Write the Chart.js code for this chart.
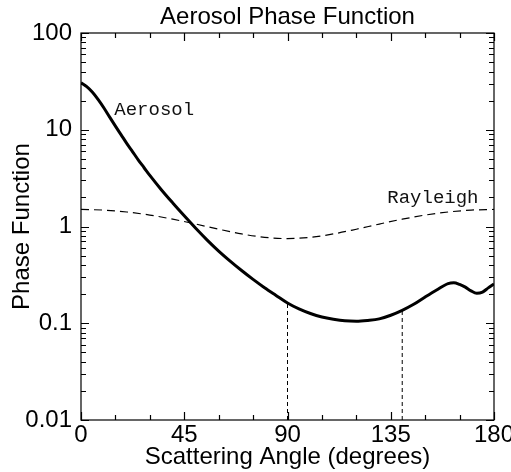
<!DOCTYPE html>
<html>
<head>
<meta charset="utf-8">
<title>Aerosol Phase Function</title>
<script src="https://cdn.jsdelivr.net/npm/chart.js@4.4.1/dist/chart.umd.min.js"></script>
<style>
  html, body { margin: 0; padding: 0; background: #fff; }
</style>
</head>
<body>
<canvas id="myChart" width="511" height="472"></canvas>
<script>
const aerosolAngles = [0, 2.5, 5, 7.5, 10, 12.5, 15, 17.5, 20, 22.5, 25, 27.5, 30, 35, 40, 45,
  50, 55, 60, 65, 70, 75, 80, 85, 90, 95, 100, 105, 110, 115, 120, 125, 130, 135, 140,
  145, 150, 155, 160, 162.5, 165, 167.5, 170, 172.5, 175, 177.5, 180];
const aerosolValues = [30.6, 27.9, 24.4, 20.5, 16.8, 13.5, 10.9, 8.85, 7.19, 5.92, 4.86, 4.05, 3.37, 2.4, 1.75, 1.29,
  0.959, 0.724, 0.557, 0.439, 0.351, 0.284, 0.233, 0.194, 0.162, 0.1406, 0.126, 0.116, 0.110, 0.106, 0.105, 0.107, 0.111, 0.121, 0.136,
  0.157, 0.187, 0.221, 0.257, 0.262, 0.252, 0.236, 0.216, 0.204, 0.21, 0.232, 0.255];

// rayleigh phase function
const rayleighAngles = [0, 10, 20, 30, 40, 50, 60, 70, 80, 90, 100, 110, 120, 130, 140, 150, 160, 170, 180];
const rayleighValues = [1.5, 1.477, 1.412, 1.3125, 1.19, 1.06, 0.9375, 0.838, 0.773, 0.75,
  0.773, 0.838, 0.9375, 1.06, 1.19, 1.3125, 1.412, 1.477, 1.5];

// angles marked with a drop line down to the axis
const markAngles = [90, 140];

const xTickValues = [0, 45, 90, 135, 180];
const xMinorStep = 15;
const yTickValues = [0.01, 0.1, 1, 10, 100];

const chartTitle = 'Aerosol Phase Function';

// curve names, placed in data units
const curveLabels = [
  { text: 'Aerosol', x: 14.5, y: 14.2 },
  { text: 'Rayleigh', x: 133.5, y: 1.75 }
];

const sansFamily = "'Liberation Sans', Arial, Helvetica, sans-serif";
const sansFont = { family: sansFamily, size: 24, weight: 'normal' };

const markLines = markAngles.map(a => {
  const v = aerosolValues[aerosolAngles.indexOf(a)];
  return {
    data: [{ x: a, y: 0.01 }, { x: a, y: v }],
    borderColor: '#000',
    borderWidth: 1,
    borderDash: [4, 3],
    pointRadius: 0,
    fill: false
  };
});

// box with inward ticks on all four sides, title over the plot, curve names
const frameTicks = {
  id: 'frameTicks',
  afterDatasetsDraw(chart) {
    const { ctx, chartArea: a, scales: { x, y } } = chart;
    ctx.save();
    ctx.strokeStyle = '#000';
    ctx.lineWidth = 1.2;
    ctx.strokeRect(a.left, a.top, a.right - a.left, a.bottom - a.top);

    ctx.beginPath();
    for (let v = x.min; v <= x.max; v += xMinorStep) {
      const px = Math.round(x.getPixelForValue(v)) + 0.5;
      const len = xTickValues.includes(v) ? 8 : 5;
      ctx.moveTo(px, a.bottom); ctx.lineTo(px, a.bottom - len);
      ctx.moveTo(px, a.top); ctx.lineTo(px, a.top + len);
    }
    yTickValues.forEach((d, i) => {
      if (i === yTickValues.length - 1) return;
      for (let m = 1; m <= 10; m++) {
        const py = Math.round(y.getPixelForValue(d * m)) + 0.5;
        const len = (m === 1 || m === 10) ? 8 : 5;
        ctx.moveTo(a.left, py); ctx.lineTo(a.left + len, py);
        ctx.moveTo(a.right, py); ctx.lineTo(a.right - len, py);
      }
    });
    ctx.stroke();

    ctx.fillStyle = '#000';
    ctx.font = '24px ' + sansFamily;
    ctx.textAlign = 'center';
    ctx.textBaseline = 'alphabetic';
    ctx.fillText(chartTitle, (a.left + a.right) / 2, a.top - 9);

    ctx.fillStyle = '#111';
    ctx.font = "19px 'Liberation Mono', 'Courier New', monospace";
    ctx.textAlign = 'left';
    curveLabels.forEach(l => {
      ctx.fillText(l.text, x.getPixelForValue(l.x), y.getPixelForValue(l.y));
    });
    ctx.restore();
  }
};

const ctx = document.getElementById('myChart').getContext('2d');
const myChart = new Chart(ctx, {
  type: 'line',
  data: {
    datasets: [
      {
        label: 'Aerosol',
        data: aerosolAngles.map((a, i) => ({ x: a, y: aerosolValues[i] })),
        borderColor: '#000',
        borderWidth: 3,
        pointRadius: 0,
        cubicInterpolationMode: 'monotone',
        fill: false
      },
      {
        label: 'Rayleigh',
        data: rayleighAngles.map((a, i) => ({ x: a, y: rayleighValues[i] })),
        borderColor: '#000',
        borderWidth: 1.2,
        borderDash: [8, 5],
        pointRadius: 0,
        cubicInterpolationMode: 'monotone',
        fill: false
      },
      ...markLines
    ]
  },
  options: {
    responsive: false,
    animation: false,
    events: [],
    layout: { padding: { top: 33, right: 17, left: 0, bottom: 0 } },
    plugins: {
      legend: { display: false },
      tooltip: { enabled: false },
      title: { display: false }
    },
    scales: {
      x: {
        type: 'linear',
        min: 0,
        max: 180,
        grid: { display: false, drawTicks: false },
        border: { display: false },
        afterBuildTicks(s) { s.ticks = xTickValues.map(v => ({ value: v })); },
        ticks: { color: '#000', font: sansFont, padding: 1, maxRotation: 0, autoSkip: false },
        title: {
          display: true,
          text: 'Scattering Angle (degrees)',
          color: '#000',
          font: sansFont,
          padding: { top: 0, bottom: 0 }
        },
        afterFit(s) { s.height = 52; s.paddingLeft = 0; s.paddingRight = 0; }
      },
      y: {
        type: 'logarithmic',
        min: 0.01,
        max: 100,
        grid: { display: false, drawTicks: false },
        border: { display: false },
        afterBuildTicks(s) { s.ticks = yTickValues.map(v => ({ value: v })); },
        ticks: { color: '#000', font: sansFont, padding: 9, autoSkip: false, callback: v => String(v) },
        title: {
          display: true,
          text: 'Phase Function',
          color: '#000',
          font: sansFont,
          padding: { top: 8, bottom: 0 }
        },
        afterFit(s) { s.width = 81; s.paddingTop = 0; s.paddingBottom = 0; }
      }
    }
  },
  plugins: [frameTicks]
});
</script>
</body>
</html>
